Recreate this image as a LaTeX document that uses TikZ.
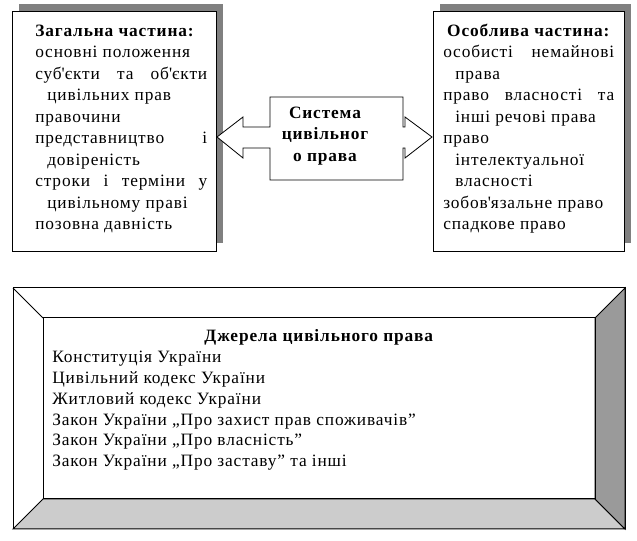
\documentclass[tikz,border=0pt]{standalone}
\usepackage{fontspec}
\setmainfont{Liberation Serif}[LetterSpace=5]
\usetikzlibrary{positioning}

\definecolor{shadowgray}{HTML}{808080}
\definecolor{bevlight}{HTML}{CCCCCC}
\definecolor{bevdark}{HTML}{9A9A9A}

% one item of a list: justified, later lines hang in
\newcommand\itm{\par\noindent\hangindent=9pt\hangafter=1\relax}

\begin{document}
\begin{tikzpicture}[
  x=0.75pt, y=-0.75pt,
  every node/.style={font=\fontsize{13}{16.1}\selectfont, inner sep=0pt},
  frame/.style  = {draw=black, line width=0.75pt, fill=white},
  shade/.style  = {fill=shadowgray},
  part/.style   = {anchor=north west, align=justify},
  srcs/.style   = {anchor=north west, align=justify, text width=400.5pt,
                   font=\fontsize{13}{15.6}\selectfont},
  twoway/.style = {draw=black, line width=0.6pt, fill=white},
]
  \useasboundingbox (0,0) rectangle (637,541);

  % the two parts, each a box with a shadow to the upper right
  \foreach \xa/\xb in {12/216, 433/624}{
    \fill[shade] (\xa+7,4) rectangle (\xb+7,243);
    \draw[frame] (\xa,12) rectangle (\xb,252);
  }
  \node[part, text width=129pt] (general) at (35,21)
    {\noindent\strut\textbf{Загальна частина:}
     \itm основні положення
     \itm суб\textquotesingle єкти та об\textquotesingle єкти\linebreak цивільних прав
     \itm правочини
     \itm представництво і\linebreak довіреність
     \itm строки і терміни у\linebreak цивільному праві
     \itm позовна давність};
  \node[part, text width=128.25pt] (special) at (443,21)
    {\noindent\makebox[\hsize]{\strut\textbf{Особлива частина:}}
     \itm особисті немайнові\linebreak права
     \itm право власності та\linebreak інші речові права
     \itm право\linebreak інтелектуальної\linebreak власності
     \itm зобов\textquotesingle язальне право
     \itm спадкове право};

  % two-way arrow between the parts
  \draw[twoway] (217,137) -- (243,117) -- (243,127) -- (270,127) -- (270,97)
    -- (403,97) -- (403,127) -- (405,127) -- (405,117) -- (432,137)
    -- (405,158) -- (405,148) -- (403,148) -- (403,180) -- (270,180)
    -- (270,148) -- (243,148) -- (243,158) -- cycle;
  \node[align=center, font=\fontsize{13}{16.1}\selectfont\bfseries] (system)
    at (325,136) {Система\\цивільног\\о права};

  % sources: bevelled frame
  \draw[frame] (13,288) rectangle (625,529);
  \filldraw[fill=bevlight, line width=0.75pt] (13,529) -- (43,499) -- (595,499) -- (625,529) -- cycle;
  \filldraw[fill=bevdark, line width=0.75pt] (625,288) -- (595,318) -- (595,499) -- (625,529) -- cycle;
  \draw[line width=0.75pt] (13,288) -- (43,318);
  \draw[line width=0.75pt] (43,318) rectangle (595,499);
  \node[srcs] (sources) at (52,327)
    {\noindent\makebox[\hsize]{\strut\textbf{Джерела цивільного права}}
     \itm Конституція України
     \itm Цивільний кодекс України
     \itm Житловий кодекс України
     \itm Закон України „Про захист прав споживачів”
     \itm Закон України „Про власність”
     \itm Закон України „Про заставу” та інші};
\end{tikzpicture}
\end{document}
